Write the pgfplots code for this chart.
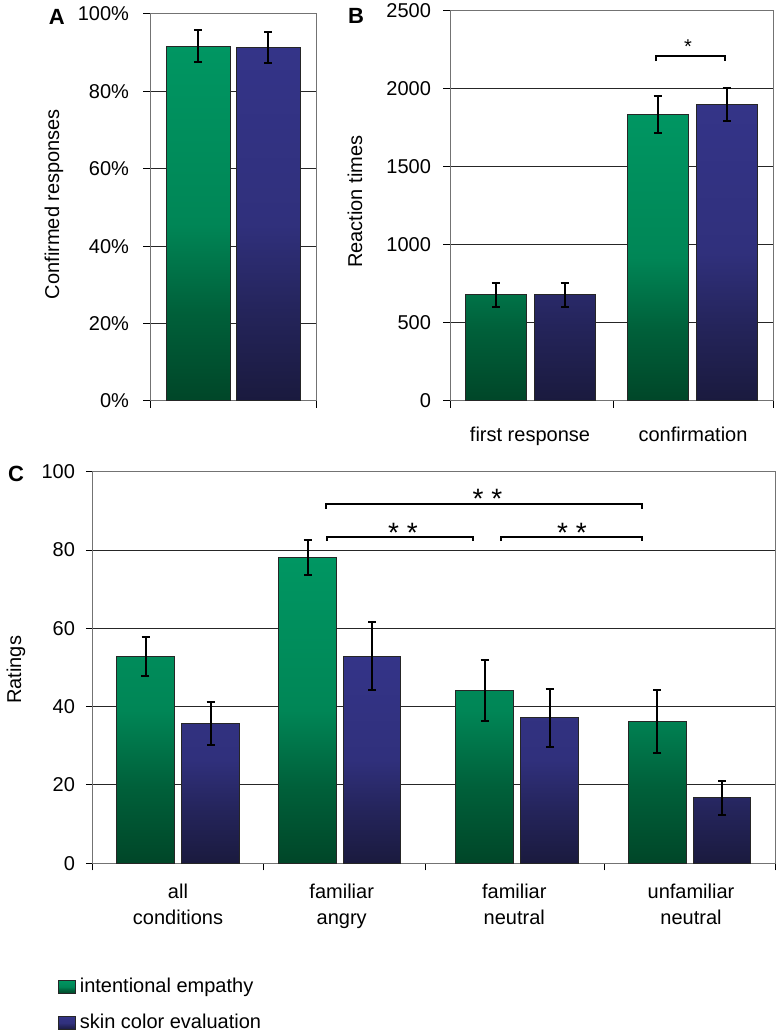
\documentclass[border=0pt]{standalone}
\usepackage{pgfplots}
\pgfplotsset{compat=1.18}
\usepackage{fontspec}
\setmainfont{Liberation Sans}
\definecolor{gtop}{RGB}{0,150,98}
\definecolor{gmid}{RGB}{0,134,86}
\definecolor{gq}{RGB}{0,96,58}
\definecolor{gbot}{RGB}{0,70,40}
\definecolor{btop}{RGB}{52,52,136}
\definecolor{bmid}{RGB}{48,48,124}
\definecolor{bq}{RGB}{36,36,90}
\definecolor{bbot}{RGB}{26,26,62}
\pgfdeclareverticalshading{gbar}{100bp}{color(0bp)=(gbot); color(25bp)=(gbot); color(37.5bp)=(gq); color(50bp)=(gmid); color(75bp)=(gtop); color(100bp)=(gtop)}
\pgfdeclareverticalshading{bbar}{100bp}{color(0bp)=(bbot); color(25bp)=(bbot); color(37.5bp)=(bq); color(50bp)=(bmid); color(75bp)=(btop); color(100bp)=(btop)}
\pgfplotsset{
  myaxis/.style={
    scale only axis, ybar, anchor=south west,
    axis line style={black!55, line width=0.5pt},
    ymajorgrids, grid style={black!85, line width=0.5pt},
    tick align=outside, tickpos=left,
    major tick length=3.5pt,
    tick style={black, line width=0.5pt},
    /pgf/number format/assume math mode=true,
    yticklabel style={xshift=-2.5pt},
    xticklabels={},
    ymin=0,
    every axis y label/.style={rotate=90, anchor=center},
    extra x tick style={major tick length=0pt},
  },
  gb/.style={bar shift=0pt, draw=black!85, line width=0.5pt, shade, shading=gbar,
    legend image code/.code={\draw[##1] (0pt,-3.3pt) rectangle (8.3pt,3.4pt);}},
  bb/.style={bar shift=0pt, draw=black!85, line width=0.5pt, shade, shading=bbar,
    legend image code/.code={\draw[##1] (0pt,-3.3pt) rectangle (8.3pt,3.4pt);}},
  eb/.style={forget plot, bar shift=0pt, draw=none, fill=none,
    error bars/.cd, y dir=both, y explicit,
    error bar style={draw=black, line width=1pt},
    error mark options={rotate=90, draw=black, mark size=2pt, line width=1pt}},
}
\begin{document}
\begin{tikzpicture}
\useasboundingbox (0,0) rectangle (390.5pt,516.5pt);
% ---------- A ----------
\begin{axis}[myaxis, at={(75pt,316pt)}, width=83pt, height=193.5pt,
  xmin=150, xmax=316, ymax=100, xtick={150,316},
  ytick={0,20,40,60,80,100}, yticklabels={0\%,20\%,40\%,60\%,80\%,100\%},
  yticklabel style={xshift=-1pt},
  ylabel={Confirmed responses},
  ylabel style={at={(axis description cs:-0.578,0.509)}},
  bar width=64]
\addplot[gb] coordinates {(198,91.7)};
\addplot[bb] coordinates {(268,91.4)};
\addplot[eb] coordinates {(198,91.7) +- (0,4.1) (268,91.4) +- (0,4.0)};
\end{axis}
% ---------- B ----------
\begin{axis}[myaxis, at={(225pt,316pt)}, width=161.5pt, height=195pt,
  xmin=450, xmax=773, ymax=2500, xtick={450,613,773},
  ytick={0,500,1000,1500,2000,2500}, yticklabels={0,500,1000,1500,2000,2500},
  extra x ticks={530,693}, extra x tick labels={first response,confirmation},
  extra x tick style={xticklabel style={yshift=-9.5pt}},
  ylabel={Reaction times},
  ylabel style={at={(axis description cs:-0.294,0.511)}},
  bar width=61]
\addplot[gb] coordinates {(495.5,681) (657.5,1838)};
\addplot[bb] coordinates {(564.5,681) (726.5,1900)};
\addplot[eb] coordinates {(495.5,681) +- (0,77) (657.5,1838) +- (0,119)
  (564.5,681) +- (0,77) (726.5,1900) +- (0,108)};
\draw[line width=1pt] (axis cs:655.7,2179) -- (axis cs:655.7,2213) -- (axis cs:725,2213) -- (axis cs:725,2179);
\node[inner sep=0pt, yshift=-2.2pt] at (axis cs:688,2297) {*};
\end{axis}
% ---------- C ----------
\begin{axis}[myaxis, at={(46.5pt,84.85pt)}, width=341pt, height=195.8pt,
  xmin=93, xmax=775, ymax=100, xtick={93,263,425,604,775},
  ytick={0,20,40,60,80,100}, yticklabels={0,20,40,60,80,100},
  yticklabel style={xshift=0.5pt},
  extra x ticks={178,341.7,514.3,691},
  extra x tick labels={all\\conditions,familiar\\angry,familiar\\neutral,unfamiliar\\neutral},
  extra x tick style={xticklabel style={align=center, font=\fontsize{10}{13.3}\selectfont, yshift=-6.7pt}},
  ylabel={Ratings},
  ylabel style={at={(axis description cs:-0.113,0.494)}},
  bar width=57.5,
  legend style={at={(axis description cs:-0.0515,-0.288)}, anchor=north west,
    draw=none, fill=none, inner sep=0pt, row sep=7.8pt, column sep=1.2pt,
    nodes={inner sep=0.8pt, text depth=0.15em}},
  legend cell align=left]
\addplot[gb] coordinates {(145.5,52.9) (307.5,78.1) (484.5,44.1) (657.3,36.2)};
\addlegendentry{intentional empathy}
\addplot[bb] coordinates {(210.7,35.7) (372,52.9) (549.5,37.2) (722.2,16.7)};
\addlegendentry{skin color evaluation}
\addplot[eb] coordinates {(145.5,52.9) +- (0,5) (307.5,78.1) +- (0,4.5)
  (484.5,44.1) +- (0,7.7) (657.3,36.2) +- (0,8)};
\addplot[eb] coordinates {(210.7,35.7) +- (0,5.4) (372,52.9) +- (0,8.6)
  (549.5,37.2) +- (0,7.4) (722.2,16.7) +- (0,4.3)};
\draw[line width=1pt] (axis cs:325.7,90.6) -- (axis cs:325.7,91.7) -- (axis cs:642.3,91.7) -- (axis cs:642.3,90.6);
\draw[line width=1pt] (axis cs:327.3,82.3) -- (axis cs:327.3,83.3) -- (axis cs:473.3,83.3) -- (axis cs:473.3,82.3);
\draw[line width=1pt] (axis cs:501.3,82.3) -- (axis cs:501.3,83.3) -- (axis cs:642.3,83.3) -- (axis cs:642.3,82.3);
\node[inner sep=0pt, yshift=-3pt, font=\fontsize{14}{14}\selectfont] at (axis cs:487.5,94.5) {* *};
\node[inner sep=0pt, yshift=-3pt, font=\fontsize{14}{14}\selectfont] at (axis cs:403,86) {* *};
\node[inner sep=0pt, yshift=-3pt, font=\fontsize{14}{14}\selectfont] at (axis cs:572,85.8) {* *};
\end{axis}
% panel letters
\node[font=\fontsize{11}{12}\bfseries\selectfont] at (28.35pt,508.15pt) {A};
\node[font=\fontsize{11}{12}\bfseries\selectfont] at (178pt,508.75pt) {B};
\node[font=\fontsize{11}{12}\bfseries\selectfont] at (8pt,279.5pt) {C};
\end{tikzpicture}
\end{document}
